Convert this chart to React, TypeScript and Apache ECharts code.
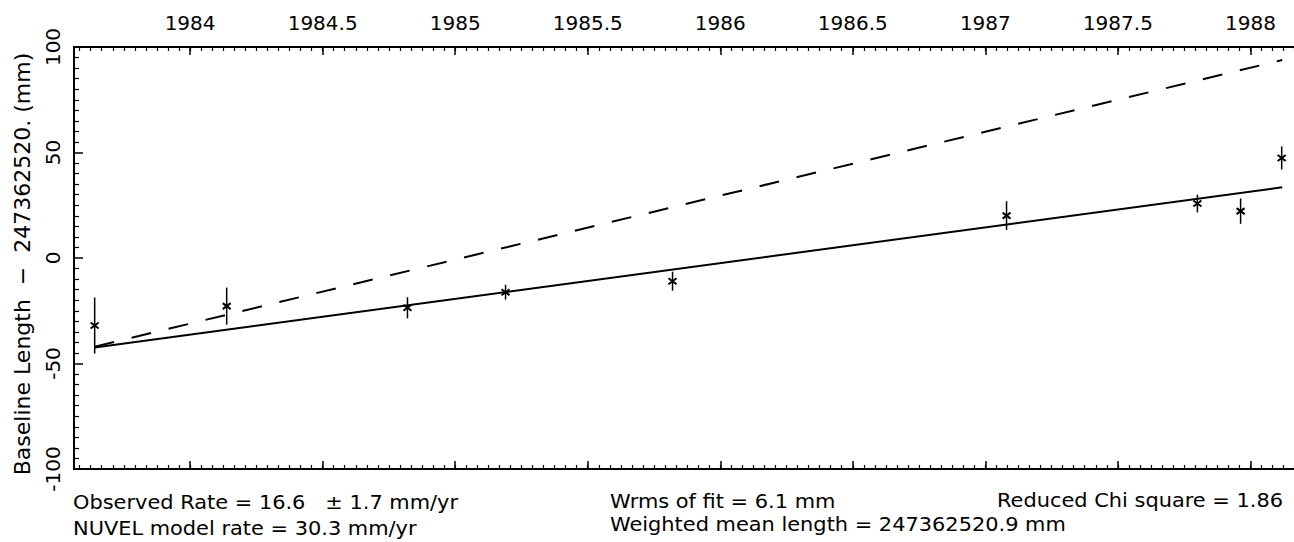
import React, { useEffect, useRef } from "react";
import * as echarts from "echarts";

// ---- data ----
const obsYears = [1983.64, 1984.138, 1984.82, 1985.19, 1985.82, 1987.08, 1987.8, 1987.963, 1988.118];
const obsValues = [-32.0, -22.8, -23.6, -16.2, -11.0, 20.1, 25.8, 22.2, 47.4];
const obsErrors = [13.3, 8.8, 5.0, 3.5, 4.5, 6.8, 4.2, 6.0, 5.5];

const fitYears = [1983.64, 1988.12];
const observedFitValues = [-42.4, 33.5];
const nuvelFitValues = [-42.0, 93.8];

const majorYearTicks = [1984, 1984.5, 1985, 1985.5, 1986, 1986.5, 1987, 1987.5, 1988];
const xMin = 1983.562;
const xMax = 1988.172;

const yTitle = "Baseline Length  \u2212  247362520. (mm)";
const statsLeft = ["Observed Rate = 16.6   \u00b1 1.7 mm/yr", "NUVEL model rate = 30.3 mm/yr"];
const statsMid = ["Wrms of fit = 6.1 mm", "Weighted mean length = 247362520.9 mm"];
const statsRight = ["Reduced Chi square = 1.86"];

const FONT = "DejaVu Sans";

function xAxisDef(position: "top" | "bottom", ticks: number[], tickLen: number, labels: boolean) {
  return {
    type: "value",
    position,
    min: xMin,
    max: xMax,
    z: 5,
    splitLine: { show: false },
    axisLine: { show: true, onZero: false, lineStyle: { color: "#000", width: 2 } },
    axisTick: {
      show: true,
      inside: true,
      length: tickLen,
      customValues: ticks,
      lineStyle: { color: "#000", width: tickLen > 5 ? 1.5 : 1.2 },
    },
    axisLabel: labels
      ? {
          show: true,
          customValues: majorYearTicks,
          formatter: (v: number) => String(v),
          color: "#000",
          fontFamily: FONT,
          fontSize: 20,
          margin: 14,
        }
      : { show: false },
  };
}

export default function App() {
  const ref = useRef<HTMLDivElement>(null);

  useEffect(() => {
    document.body.style.margin = "0";
    const chart = echarts.init(ref.current!, null, { renderer: "svg" });

    const minorTicks: number[] = [];
    for (let i = Math.ceil(xMin * 24); i <= Math.floor(xMax * 24); i++) minorTicks.push(i / 24);

    const errData = obsYears.map((x, i) => [x, obsValues[i], obsErrors[i]]);
    const obsFit = fitYears.map((x, i) => [x, observedFitValues[i]]);
    const nuvelFit = fitYears.map((x, i) => [x, nuvelFitValues[i]]);

    const textStyle = { fill: "#000", fontFamily: FONT, fontSize: 19 };
    const sx = 1.1;

    chart.setOption({
      animation: false,
      backgroundColor: "#fff",
      grid: {
        left: 74,
        top: 47,
        right: -2,
        bottom: 73,
        containLabel: false,
        outerBoundsMode: "none",
      },
      xAxis: [
        xAxisDef("top", majorYearTicks, 8, true),
        xAxisDef("top", minorTicks, 4, false),
        xAxisDef("bottom", majorYearTicks, 8, false),
        xAxisDef("bottom", minorTicks, 4, false),
      ],
      yAxis: [
        {
          type: "value",
          position: "left",
          min: -100,
          max: 100,
          interval: 50,
          z: 5,
          splitLine: { show: false },
          axisLine: { show: true, onZero: false, lineStyle: { color: "#000", width: 2 } },
          axisTick: { show: true, inside: true, length: 9, lineStyle: { color: "#000", width: 1.5 } },
          minorTick: { show: true, splitNumber: 10, length: 5, lineStyle: { color: "#000", width: 1.2 } },
          axisLabel: {
            rotate: 90,
            color: "#000",
            fontFamily: FONT,
            fontSize: 20,
            margin: 11,
          },
        },
      ],
      series: [
        {
          name: "Observed fit",
          type: "line",
          xAxisIndex: 0,
          data: obsFit,
          symbol: "none",
          lineStyle: { color: "#000", width: 2 },
        },
        {
          name: "NUVEL model",
          type: "line",
          xAxisIndex: 0,
          data: nuvelFit,
          symbol: "none",
          lineStyle: { color: "#000", width: 2, type: [20, 18] },
        },
        {
          name: "Observations",
          type: "custom",
          xAxisIndex: 0,
          data: errData,
          renderItem: (params: any, api: any) => {
            const x = api.value(0);
            const y = api.value(1);
            const e = api.value(2);
            const p = api.coord([x, y]);
            const hi = api.coord([x, y + e]);
            const lo = api.coord([x, y - e]);
            const mx = 4;
            const my = 3;
            const st = { stroke: "#000", lineWidth: 2 };
            return {
              type: "group",
              children: [
                { type: "line", shape: { x1: p[0], y1: hi[1], x2: p[0], y2: lo[1] }, style: { stroke: "#000", lineWidth: 1.5 } },
                { type: "line", shape: { x1: p[0] - mx, y1: p[1] - my, x2: p[0] + mx, y2: p[1] + my }, style: st },
                { type: "line", shape: { x1: p[0] - mx, y1: p[1] + my, x2: p[0] + mx, y2: p[1] - my }, style: st },
              ],
            };
          },
        },
      ],
      graphic: [
        {
          type: "text",
          x: 22,
          y: 264,
          rotation: Math.PI / 2,
          style: {
            text: yTitle,
            fill: "#000",
            fontFamily: FONT,
            fontSize: 22,
            textAlign: "center",
            textVerticalAlign: "middle",
          },
        },
        { type: "text", x: 73, y: 502, scaleX: sx, style: { ...textStyle, text: statsLeft[0], textAlign: "left", textVerticalAlign: "middle" } },
        { type: "text", x: 73, y: 528, scaleX: sx, style: { ...textStyle, text: statsLeft[1], textAlign: "left", textVerticalAlign: "middle" } },
        { type: "text", x: 610, y: 501, scaleX: sx, style: { ...textStyle, text: statsMid[0], textAlign: "left", textVerticalAlign: "middle" } },
        { type: "text", x: 610, y: 524, scaleX: sx, style: { ...textStyle, text: statsMid[1], textAlign: "left", textVerticalAlign: "middle" } },
        { type: "text", x: 1283, y: 500, scaleX: sx, style: { ...textStyle, text: statsRight[0], textAlign: "right", textVerticalAlign: "middle" } },
      ],
    });

    return () => chart.dispose();
  }, []);

  return <div ref={ref} style={{ width: 1294, height: 542 }} />;
}
